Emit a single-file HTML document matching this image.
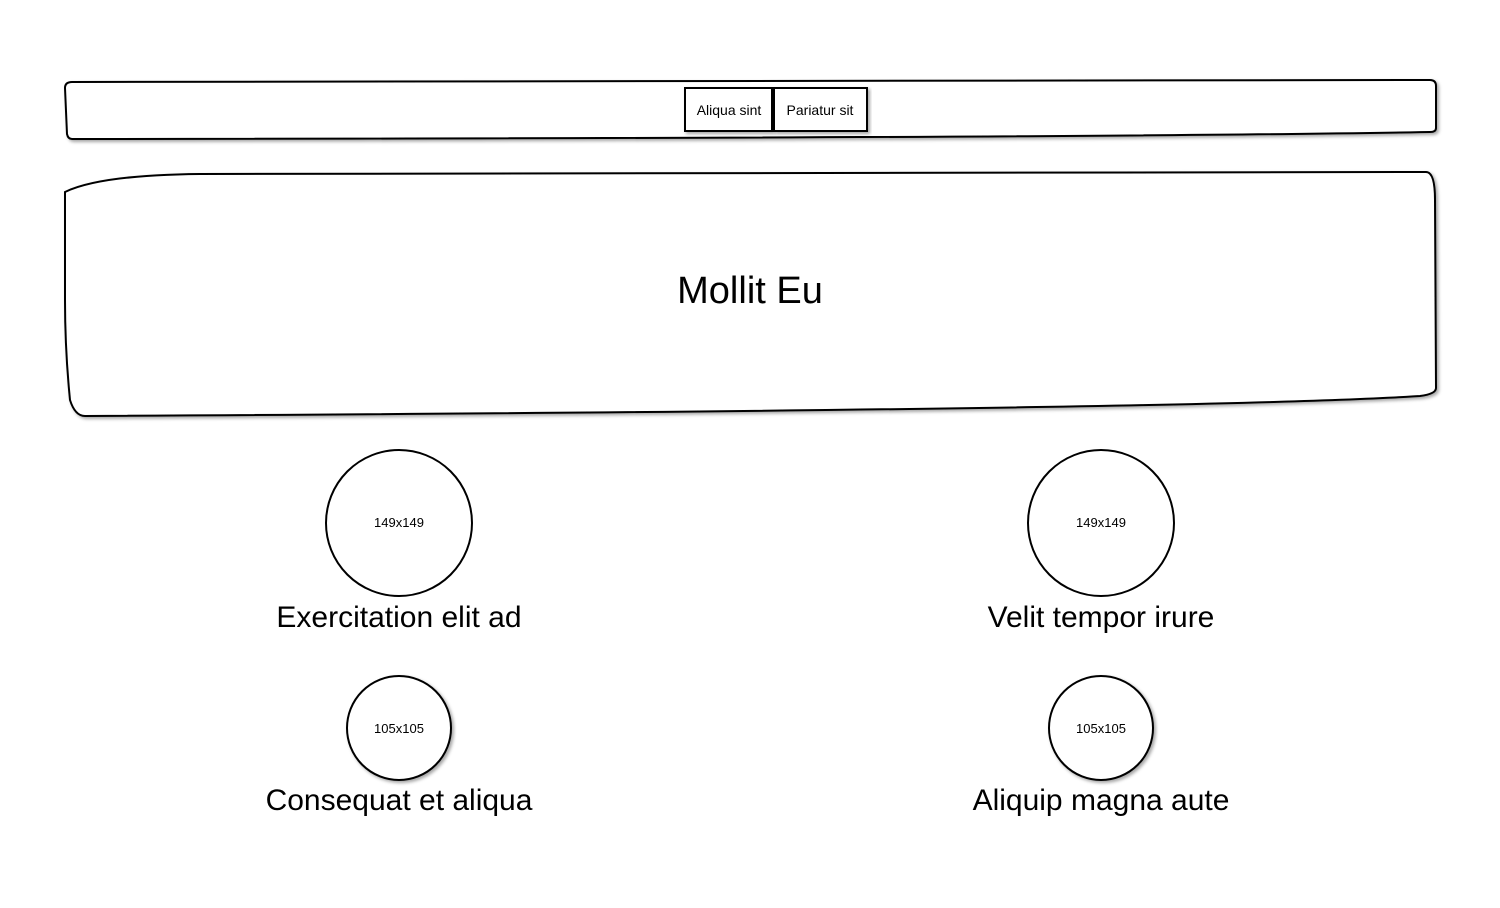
<!DOCTYPE html>
<html><head><meta charset="utf-8"><style>
html,body{margin:0;padding:0;background:#fff;width:1500px;height:908px;overflow:hidden}
svg text{font-family:"Liberation Sans",sans-serif;fill:#000}
</style></head><body>
<svg width="1500" height="908" viewBox="0 0 1500 908" xmlns="http://www.w3.org/2000/svg">
<defs><filter id="sh" x="-5%" y="-20%" width="110%" height="140%"><feDropShadow dx="2" dy="2" stdDeviation="1.5" flood-color="#000" flood-opacity="0.35"/></filter></defs>
<path d="M72,82 L1430,80 Q1436,80 1436,86 L1436,128 Q1436,132 1430,132 Q1100,138 72,139 Q68,139 67,134 L65,88 Q65,82 72,82 Z" fill="#fff" stroke="#000" stroke-width="2" filter="url(#sh)"/>
<rect x="685" y="88" width="87" height="43" fill="#fff" stroke="#000" stroke-width="2" filter="url(#sh)"/>
<rect x="774" y="88" width="93" height="43" fill="#fff" stroke="#000" stroke-width="2" filter="url(#sh)"/>
<text x="729" y="115" font-size="14" text-anchor="middle">Aliqua sint</text>
<text x="820" y="115" font-size="14" text-anchor="middle">Pariatur sit</text>
<path d="M65,192 Q100,175 200,174 L1426,172 Q1435,172 1435,200 L1436,388 Q1436,394 1420,396 Q1200,410 85,416 Q75,416 70,400 Q65,350 65,300 Z" fill="#fff" stroke="#000" stroke-width="2" filter="url(#sh)"/>
<text x="750" y="303" font-size="38" text-anchor="middle">Mollit Eu</text>
<circle cx="399" cy="523" r="73" fill="#fff" stroke="#000" stroke-width="2"/>
<circle cx="1101" cy="523" r="73" fill="#fff" stroke="#000" stroke-width="2"/>
<text x="399" y="527" font-size="13" text-anchor="middle">149x149</text>
<text x="1101" y="527" font-size="13" text-anchor="middle">149x149</text>
<text x="399" y="627" font-size="30" text-anchor="middle">Exercitation elit ad</text>
<text x="1101" y="627" font-size="30" text-anchor="middle">Velit tempor irure</text>
<circle cx="399" cy="728" r="52" fill="#fff" stroke="#000" stroke-width="2" filter="url(#sh)"/>
<circle cx="1101" cy="728" r="52" fill="#fff" stroke="#000" stroke-width="2" filter="url(#sh)"/>
<text x="399" y="733" font-size="13" text-anchor="middle">105x105</text>
<text x="1101" y="733" font-size="13" text-anchor="middle">105x105</text>
<text x="399" y="810" font-size="30" text-anchor="middle">Consequat et aliqua</text>
<text x="1101" y="810" font-size="30" text-anchor="middle">Aliquip magna aute</text>
</svg>
</body></html>
